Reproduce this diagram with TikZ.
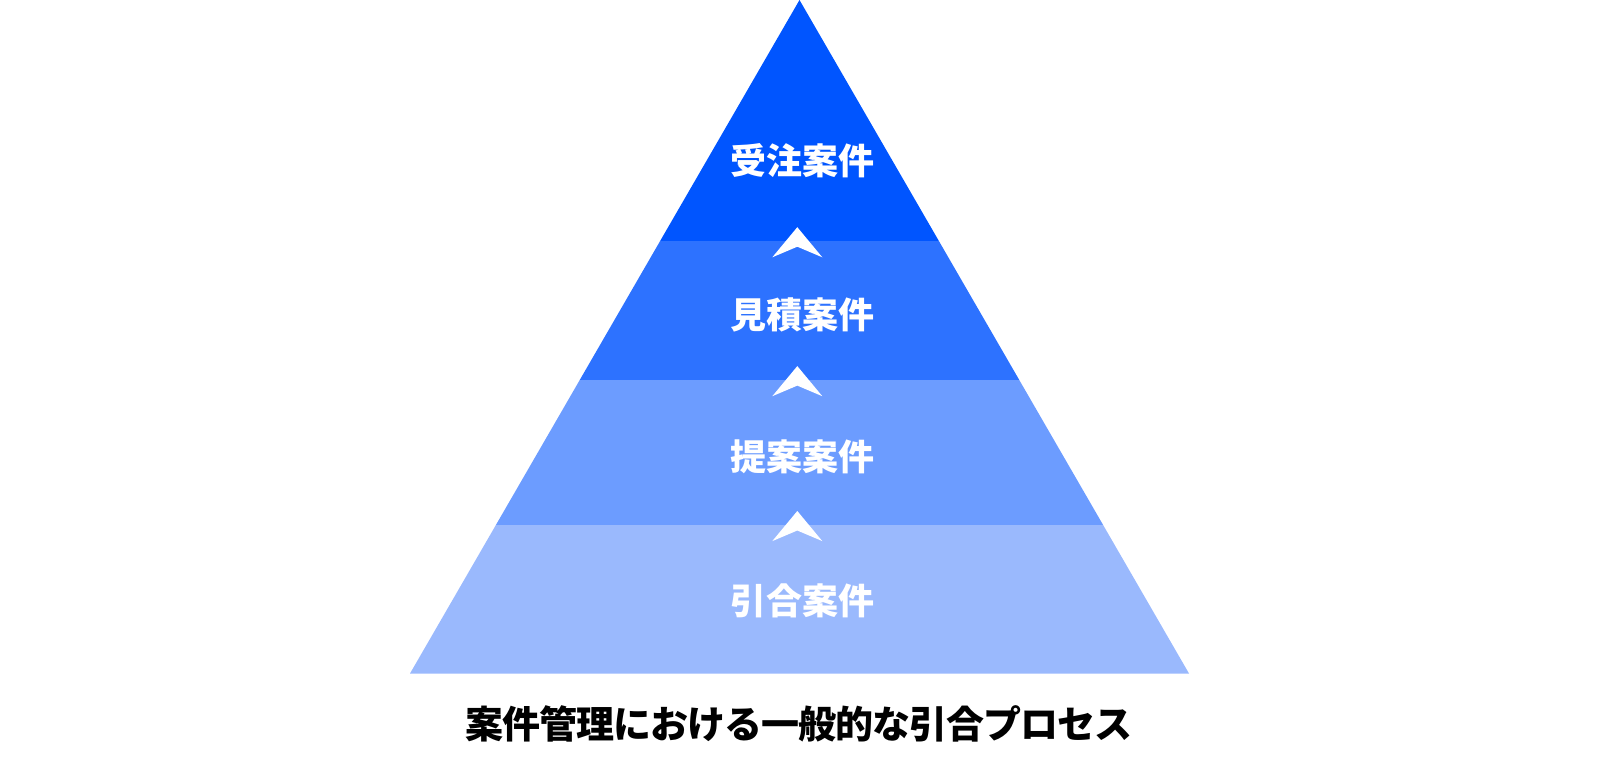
\documentclass[tikz,border=0pt]{standalone}
\usepackage{fontspec}
\setmainfont{Noto Sans CJK JP}
\definecolor{c1}{HTML}{0055FF}
\definecolor{c2}{HTML}{2D72FF}
\definecolor{c3}{HTML}{6C9CFF}
\definecolor{c4}{HTML}{9AB9FD}
\begin{document}
\begin{tikzpicture}[x=1pt,y=-1pt,
  lbl/.style={text=white,font=\fontsize{36}{40}\selectfont\bfseries,inner sep=0pt},
  chev/.style={fill=white,draw=none},
  captext/.style={text=black,font=\fontsize{38}{42}\selectfont\bfseries\addfontfeature{LetterSpace=-2.6},inner sep=0pt}]
\useasboundingbox (0,0) rectangle (1600,760);
% pyramid corners
\coordinate (apex) at (799.5,0);
\coordinate (bl) at (410,673.5);
\coordinate (br) at (1189,673.5);
\begin{scope}
  \clip (apex) -- (bl) -- (br) -- cycle;
  \fill[c1] (0,0) rectangle (1600,240.7);
  \fill[c2] (0,240.7) rectangle (1600,379.6);
  \fill[c3] (0,379.6) rectangle (1600,524.5);
  \fill[c4] (0,524.5) rectangle (1600,673.5);
\end{scope}
% labels
\node[lbl] (l1) at (802,161) {受注案件};
\node[lbl] (l2) at (802,315) {見積案件};
\node[lbl] (l3) at (802,457) {提案案件};
\node[lbl] (l4) at (802,601) {引合案件};
% chevrons
\foreach \b in {240.7,379.6,524.5}{
  \fill[chev] (797.3,\b-13.5) -- (822.3,\b+16.6) -- (797.3,\b+6) -- (772.3,\b+16.6) -- cycle;
}
% caption
\node[captext] (caption) at (799,724) {案件管理における一般的な引合プロセス};
\end{tikzpicture}
\end{document}
